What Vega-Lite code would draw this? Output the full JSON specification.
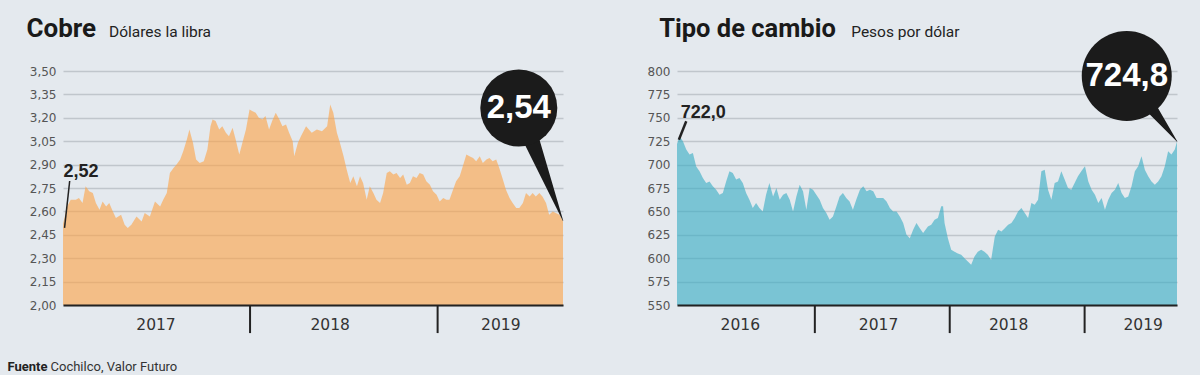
{
  "$schema": "https://vega.github.io/schema/vega-lite/v6.json",
  "background": "#e4e9ee",
  "padding": {"left": 7, "top": 15, "right": 22, "bottom": 2},
  "config": {"view": {"stroke": null}},
  "title": {
    "text": "Fuente",
    "orient": "bottom", "anchor": "start", "dx": -18.6, "offset": -13,
    "font": "Roboto", "fontSize": 13, "fontWeight": "bold", "color": "#222"
  },
  "spacing": 83,
  "datasets": {
    "cobre": [
      {"d":"2017-01-02","v":2.52},{"d":"2017-01-10","v":2.632},{"d":"2017-01-17","v":2.675},{"d":"2017-01-27","v":2.675},
      {"d":"2017-02-02","v":2.686},{"d":"2017-02-09","v":2.654},{"d":"2017-02-15","v":2.761},{"d":"2017-02-22","v":2.729},
      {"d":"2017-03-01","v":2.718},{"d":"2017-03-07","v":2.654},{"d":"2017-03-14","v":2.611},{"d":"2017-03-20","v":2.664},
      {"d":"2017-03-27","v":2.632},{"d":"2017-04-02","v":2.654},{"d":"2017-04-09","v":2.60},{"d":"2017-04-15","v":2.557},
      {"d":"2017-04-25","v":2.579},{"d":"2017-05-02","v":2.514},{"d":"2017-05-08","v":2.493},{"d":"2017-05-15","v":2.514},
      {"d":"2017-05-25","v":2.568},{"d":"2017-06-04","v":2.536},{"d":"2017-06-10","v":2.589},{"d":"2017-06-20","v":2.568},
      {"d":"2017-06-30","v":2.664},{"d":"2017-07-10","v":2.632},{"d":"2017-07-16","v":2.675},{"d":"2017-07-23","v":2.718},
      {"d":"2017-07-29","v":2.846},{"d":"2017-08-05","v":2.879},{"d":"2017-08-11","v":2.90},{"d":"2017-08-18","v":2.932},
      {"d":"2017-08-24","v":2.986},{"d":"2017-08-31","v":3.061},{"d":"2017-09-05","v":3.125},{"d":"2017-09-12","v":3.039},
      {"d":"2017-09-18","v":2.932},{"d":"2017-09-25","v":2.911},{"d":"2017-10-03","v":2.921},{"d":"2017-10-10","v":2.996},
      {"d":"2017-10-16","v":3.146},{"d":"2017-10-20","v":3.189},{"d":"2017-10-26","v":3.179},{"d":"2017-11-02","v":3.125},
      {"d":"2017-11-08","v":3.146},{"d":"2017-11-15","v":3.104},{"d":"2017-11-21","v":3.082},{"d":"2017-11-28","v":3.136},
      {"d":"2017-12-04","v":3.061},{"d":"2017-12-11","v":2.964},{"d":"2017-12-17","v":3.039},{"d":"2017-12-24","v":3.125},
      {"d":"2017-12-31","v":3.254},{"d":"2018-01-05","v":3.243},{"d":"2018-01-12","v":3.232},{"d":"2018-01-18","v":3.20},
      {"d":"2018-01-25","v":3.189},{"d":"2018-01-31","v":3.211},{"d":"2018-02-07","v":3.125},{"d":"2018-02-13","v":3.179},
      {"d":"2018-02-20","v":3.232},{"d":"2018-02-27","v":3.189},{"d":"2018-03-05","v":3.146},{"d":"2018-03-12","v":3.157},
      {"d":"2018-03-18","v":3.104},{"d":"2018-03-25","v":3.05},{"d":"2018-03-28","v":2.954},{"d":"2018-04-04","v":3.039},
      {"d":"2018-04-10","v":3.082},{"d":"2018-04-20","v":3.146},{"d":"2018-05-01","v":3.104},{"d":"2018-05-11","v":3.125},
      {"d":"2018-05-21","v":3.114},{"d":"2018-05-31","v":3.146},{"d":"2018-06-06","v":3.286},{"d":"2018-06-12","v":3.232},
      {"d":"2018-06-19","v":3.104},{"d":"2018-06-25","v":3.039},{"d":"2018-07-02","v":2.954},{"d":"2018-07-08","v":2.868},
      {"d":"2018-07-15","v":2.782},{"d":"2018-07-21","v":2.825},{"d":"2018-07-28","v":2.761},{"d":"2018-08-03","v":2.825},
      {"d":"2018-08-09","v":2.782},{"d":"2018-08-16","v":2.675},{"d":"2018-08-22","v":2.761},{"d":"2018-08-29","v":2.718},
      {"d":"2018-09-04","v":2.675},{"d":"2018-09-11","v":2.654},{"d":"2018-09-17","v":2.718},{"d":"2018-09-24","v":2.846},
      {"d":"2018-09-30","v":2.857},{"d":"2018-10-07","v":2.836},{"d":"2018-10-13","v":2.846},{"d":"2018-10-20","v":2.814},
      {"d":"2018-10-26","v":2.836},{"d":"2018-11-02","v":2.771},{"d":"2018-11-08","v":2.782},{"d":"2018-11-14","v":2.825},
      {"d":"2018-11-21","v":2.814},{"d":"2018-11-27","v":2.846},{"d":"2018-12-04","v":2.836},{"d":"2018-12-10","v":2.793},
      {"d":"2018-12-17","v":2.771},{"d":"2018-12-23","v":2.729},{"d":"2018-12-30","v":2.707},{"d":"2019-01-05","v":2.664},
      {"d":"2019-01-12","v":2.686},{"d":"2019-01-18","v":2.675},{"d":"2019-01-24","v":2.675},{"d":"2019-01-31","v":2.739},
      {"d":"2019-02-06","v":2.793},{"d":"2019-02-13","v":2.825},{"d":"2019-02-19","v":2.889},{"d":"2019-02-26","v":2.964},
      {"d":"2019-03-04","v":2.954},{"d":"2019-03-11","v":2.943},{"d":"2019-03-17","v":2.921},{"d":"2019-03-24","v":2.954},
      {"d":"2019-03-30","v":2.911},{"d":"2019-04-06","v":2.932},{"d":"2019-04-12","v":2.943},{"d":"2019-04-18","v":2.921},
      {"d":"2019-04-25","v":2.932},{"d":"2019-05-01","v":2.879},{"d":"2019-05-08","v":2.804},{"d":"2019-05-14","v":2.739},
      {"d":"2019-05-21","v":2.686},{"d":"2019-05-27","v":2.654},{"d":"2019-06-03","v":2.621},{"d":"2019-06-09","v":2.621},
      {"d":"2019-06-16","v":2.654},{"d":"2019-06-22","v":2.718},{"d":"2019-06-29","v":2.696},{"d":"2019-07-05","v":2.718},
      {"d":"2019-07-11","v":2.696},{"d":"2019-07-18","v":2.718},{"d":"2019-07-24","v":2.696},{"d":"2019-07-31","v":2.654},
      {"d":"2019-08-06","v":2.579},{"d":"2019-08-13","v":2.60},{"d":"2019-08-19","v":2.589},{"d":"2019-08-26","v":2.579},
      {"d":"2019-09-02","v":2.54}
    ],
    "cambio": [
      {"d":"2015-12-25","v":722.0},{"d":"2016-01-01","v":730.4},{"d":"2016-01-10","v":725},{"d":"2016-01-19","v":716},
      {"d":"2016-01-28","v":710.7},{"d":"2016-02-06","v":712.5},{"d":"2016-02-15","v":698},{"d":"2016-02-24","v":692.9},
      {"d":"2016-03-04","v":685.7},{"d":"2016-03-13","v":680.4},{"d":"2016-03-22","v":682},{"d":"2016-03-31","v":676.8},
      {"d":"2016-04-09","v":673},{"d":"2016-04-18","v":667.9},{"d":"2016-04-27","v":669.6},{"d":"2016-05-06","v":682},
      {"d":"2016-05-15","v":692.9},{"d":"2016-05-24","v":691},{"d":"2016-06-02","v":684},{"d":"2016-06-11","v":685.7},
      {"d":"2016-06-20","v":680.4},{"d":"2016-06-29","v":669.6},{"d":"2016-07-08","v":662.5},{"d":"2016-07-17","v":653.6},
      {"d":"2016-07-26","v":659},{"d":"2016-08-04","v":653.6},{"d":"2016-08-13","v":650},{"d":"2016-08-22","v":667.9},
      {"d":"2016-08-31","v":680.4},{"d":"2016-09-10","v":666},{"d":"2016-09-19","v":675},{"d":"2016-09-28","v":662.5},
      {"d":"2016-10-07","v":667.9},{"d":"2016-10-16","v":669.6},{"d":"2016-10-25","v":662.5},{"d":"2016-11-03","v":650},
      {"d":"2016-11-12","v":666},{"d":"2016-11-21","v":678.6},{"d":"2016-11-30","v":671.4},{"d":"2016-12-09","v":651.8},
      {"d":"2016-12-18","v":675},{"d":"2016-12-27","v":673},{"d":"2017-01-05","v":667.9},{"d":"2017-01-14","v":662.5},
      {"d":"2017-01-23","v":653.6},{"d":"2017-02-01","v":648.2},{"d":"2017-02-10","v":641},{"d":"2017-02-19","v":644.6},
      {"d":"2017-02-28","v":655},{"d":"2017-03-09","v":666},{"d":"2017-03-18","v":669.6},{"d":"2017-03-27","v":664.3},
      {"d":"2017-04-05","v":660.7},{"d":"2017-04-14","v":651.8},{"d":"2017-04-23","v":662.5},{"d":"2017-05-03","v":673},
      {"d":"2017-05-12","v":676.8},{"d":"2017-05-21","v":671.4},{"d":"2017-05-30","v":673},{"d":"2017-06-08","v":671.4},
      {"d":"2017-06-17","v":664.3},{"d":"2017-06-26","v":664.3},{"d":"2017-07-05","v":664.3},{"d":"2017-07-14","v":660.7},
      {"d":"2017-07-23","v":653.6},{"d":"2017-08-01","v":650},{"d":"2017-08-10","v":650},{"d":"2017-08-19","v":644.6},
      {"d":"2017-08-28","v":637.5},{"d":"2017-09-06","v":625},{"d":"2017-09-15","v":621.4},{"d":"2017-09-24","v":630.4},
      {"d":"2017-10-03","v":637.5},{"d":"2017-10-12","v":632},{"d":"2017-10-21","v":626.8},{"d":"2017-11-03","v":634},
      {"d":"2017-11-12","v":635.7},{"d":"2017-11-21","v":641},{"d":"2017-11-30","v":642.9},{"d":"2017-12-09","v":655.4},
      {"d":"2017-12-14","v":655.4},{"d":"2017-12-18","v":637.5},{"d":"2017-12-27","v":621.4},{"d":"2018-01-05","v":609},
      {"d":"2018-01-14","v":607},{"d":"2018-01-23","v":605},{"d":"2018-02-01","v":603.6},{"d":"2018-02-10","v":600},
      {"d":"2018-02-19","v":596.4},{"d":"2018-02-28","v":592.9},{"d":"2018-03-09","v":601.8},{"d":"2018-03-18","v":607},
      {"d":"2018-03-27","v":609},{"d":"2018-04-05","v":607},{"d":"2018-04-14","v":603.6},{"d":"2018-04-23","v":598.2},
      {"d":"2018-05-03","v":623.2},{"d":"2018-05-12","v":630.4},{"d":"2018-05-21","v":628.6},{"d":"2018-05-30","v":632},
      {"d":"2018-06-08","v":635.7},{"d":"2018-06-17","v":637.5},{"d":"2018-06-26","v":642.9},{"d":"2018-07-05","v":650},
      {"d":"2018-07-14","v":653.6},{"d":"2018-07-23","v":648.2},{"d":"2018-08-01","v":642.9},{"d":"2018-08-10","v":659},
      {"d":"2018-08-19","v":657},{"d":"2018-08-28","v":662.5},{"d":"2018-09-06","v":692.9},{"d":"2018-09-15","v":694.6},
      {"d":"2018-09-24","v":673},{"d":"2018-10-03","v":662.5},{"d":"2018-10-12","v":680.4},{"d":"2018-10-21","v":682},
      {"d":"2018-10-30","v":692.9},{"d":"2018-11-08","v":684},{"d":"2018-11-17","v":675},{"d":"2018-11-26","v":673},
      {"d":"2018-12-05","v":680.4},{"d":"2018-12-14","v":687.5},{"d":"2018-12-23","v":692.9},{"d":"2019-01-02","v":698.2},
      {"d":"2019-01-11","v":682},{"d":"2019-01-20","v":673},{"d":"2019-01-29","v":667.9},{"d":"2019-02-07","v":659},
      {"d":"2019-02-16","v":664.3},{"d":"2019-02-25","v":651.8},{"d":"2019-03-06","v":662.5},{"d":"2019-03-15","v":669.6},
      {"d":"2019-03-24","v":673},{"d":"2019-04-02","v":680.4},{"d":"2019-04-11","v":669.6},{"d":"2019-04-20","v":664.3},
      {"d":"2019-04-29","v":666},{"d":"2019-05-08","v":676.8},{"d":"2019-05-17","v":692.9},{"d":"2019-05-26","v":698.2},
      {"d":"2019-06-04","v":708.9},{"d":"2019-06-13","v":694.6},{"d":"2019-06-22","v":687.5},{"d":"2019-07-01","v":682},
      {"d":"2019-07-10","v":678.6},{"d":"2019-07-19","v":682},{"d":"2019-07-28","v":687.5},{"d":"2019-08-06","v":698.2},
      {"d":"2019-08-15","v":714.3},{"d":"2019-08-24","v":710.7},{"d":"2019-09-02","v":716},{"d":"2019-09-08","v":724.8}
    ]
  },
  "hconcat": [
    {
      "width": 500, "height": 234,
      "title": {
        "text": "Cochilco, Valor Futuro",
        "orient": "bottom", "anchor": "start", "dx": 24.5, "offset": 27,
        "font": "Roboto", "fontSize": 13, "fontWeight": "normal", "color": "#333"
      },
      "layer": [
        {
          "data": {"name": "cobre"},
          "mark": {"type": "area", "color": "#fda142", "opacity": 0.6},
          "encoding": {
            "x": {"field": "d", "type": "temporal", "axis": {
              "values": [{"year": 2017, "month": 7, "date": 1}, {"year": 2018, "month": 6, "date": 5}, {"year": 2019, "month": 5, "date": 3}],
              "format": "%Y", "ticks": false, "grid": false, "domain": true, "domainColor": "#222", "domainWidth": 2,
              "labelFont": "DejaVu Sans", "labelFontSize": 15.5, "labelColor": "#333", "labelPadding": 12, "labelFlush": false, "labelOverlap": false, "zindex": 1,
              "title": "Dólares la libra", "titleX": 45.5, "titleY": -269, "titleAlign": "left", "titleBaseline": "alphabetic",
              "titleFont": "Roboto", "titleFontSize": 15.5, "titleFontWeight": "normal", "titleColor": "#222"
            }},
            "y": {"field": "v", "type": "quantitative", "scale": {"domain": [2, 3.5], "nice": false, "zero": false}, "axis": {
              "values": [2, 2.15, 2.3, 2.45, 2.6, 2.75, 2.9, 3.05, 3.2, 3.35, 3.5], "tickCount": 20,
              "labelExpr": "replace(format(datum.value, '.2f'), '.', ',')",
              "grid": true, "gridColor": "#c0c6cc", "gridWidth": 1.5, "domain": false, "ticks": false, "labelPadding": 7,
              "labelFont": "DejaVu Sans", "labelFontSize": 12, "labelColor": "#555", "labelOverlap": false,
              "title": "Cobre", "titleAngle": 0, "titleX": -37, "titleY": -35, "titleAlign": "left", "titleBaseline": "alphabetic",
              "titleFont": "Roboto", "titleFontSize": 26, "titleFontWeight": "bold", "titleColor": "#1a1a1a"
            }},
            "y2": {"datum": 2}
          }
        },
        {
          "data": {"values": [{"d": "2018-01-01"}, {"d": "2019-01-01"}]},
          "mark": {"type": "rule", "color": "#222", "strokeWidth": 2},
          "encoding": {"x": {"field": "d", "type": "temporal"}, "y": {"datum": 2}, "y2": {"datum": 1.82}}
        },
        {
          "data": {"values": [{"d": "2017-01-05", "v": 2.494}, {"d": "2017-01-15", "v": 2.795}]},
          "mark": {"type": "line", "color": "#222", "strokeWidth": 1.5},
          "encoding": {"x": {"field": "d", "type": "temporal"}, "y": {"field": "v", "type": "quantitative"}}
        },
        {
          "data": {"values": [{"d": "2017-01-03", "v": 2.82, "t": "2,52"}]},
          "mark": {"type": "text", "align": "left", "baseline": "alphabetic", "font": "Liberation Sans", "fontWeight": "bold", "fontSize": 18, "color": "#222"},
          "encoding": {"x": {"field": "d", "type": "temporal"}, "y": {"field": "v", "type": "quantitative"}, "text": {"field": "t"}}
        },
        {
          "data": {"values": [{"d": "2019-06-08", "v": 3.263, "role": "base", "t": "2,54"}, {"d": "2019-09-02", "v": 2.54, "role": "tip"}]},
          "layer": [
            {
              "mark": {"type": "trail", "color": "#1b1b1b"},
              "encoding": {"x": {"field": "d", "type": "temporal"}, "y": {"field": "v", "type": "quantitative"},
                "size": {"field": "role", "type": "ordinal", "scale": {"type": "ordinal", "domain": ["base", "tip"], "range": [22, 0.5]}, "legend": null}}
            },
            {
              "transform": [{"filter": "datum.role == 'base'"}],
              "mark": {"type": "point", "filled": true, "shape": "circle", "size": 5929, "color": "#1b1b1b", "opacity": 1},
              "encoding": {"x": {"field": "d", "type": "temporal"}, "y": {"field": "v", "type": "quantitative"}}
            },
            {
              "transform": [{"filter": "datum.role == 'base'"}],
              "mark": {"type": "text", "align": "center", "baseline": "middle", "font": "Liberation Sans", "fontWeight": "bold", "fontSize": 33, "color": "#ffffff"},
              "encoding": {"x": {"field": "d", "type": "temporal"}, "y": {"field": "v", "type": "quantitative"}, "text": {"field": "t"}}
            }
          ]
        }
      ]
    },
    {
      "width": 500, "height": 234,
      "layer": [
        {
          "data": {"name": "cambio"},
          "mark": {"type": "area", "color": "#33abc3", "opacity": 0.6},
          "encoding": {
            "x": {"field": "d", "type": "temporal", "axis": {
              "values": [{"year": 2016, "month": 6, "date": 12}, {"year": 2017, "month": 6, "date": 21}, {"year": 2018, "month": 6, "date": 8}, {"year": 2019, "month": 6, "date": 7}],
              "format": "%Y", "ticks": false, "grid": false, "domain": true, "domainColor": "#222", "domainWidth": 2,
              "labelFont": "DejaVu Sans", "labelFontSize": 15.5, "labelColor": "#333", "labelPadding": 12, "labelFlush": false, "labelOverlap": false, "zindex": 1,
              "title": "Pesos por dólar", "titleX": 173.7, "titleY": -269, "titleAlign": "left", "titleBaseline": "alphabetic",
              "titleFont": "Roboto", "titleFontSize": 15.5, "titleFontWeight": "normal", "titleColor": "#222"
            }},
            "y": {"field": "v", "type": "quantitative", "scale": {"domain": [550, 800], "nice": false, "zero": false}, "axis": {
              "values": [550, 575, 600, 625, 650, 675, 700, 725, 750, 775, 800], "tickCount": 20,
              "format": "d",
              "grid": true, "gridColor": "#c0c6cc", "gridWidth": 1.5, "domain": false, "ticks": false, "labelPadding": 7,
              "labelFont": "DejaVu Sans", "labelFontSize": 12, "labelColor": "#555", "labelOverlap": false,
              "title": "Tipo de cambio", "titleAngle": 0, "titleX": -18.3, "titleY": -35, "titleAlign": "left", "titleBaseline": "alphabetic",
              "titleFont": "Roboto", "titleFontSize": 25.5, "titleFontWeight": "bold", "titleColor": "#1a1a1a"
            }},
            "y2": {"datum": 550}
          }
        },
        {
          "data": {"values": [{"d": "2017-01-01"}, {"d": "2018-01-01"}, {"d": "2019-01-01"}]},
          "mark": {"type": "rule", "color": "#222", "strokeWidth": 2},
          "encoding": {"x": {"field": "d", "type": "temporal"}, "y": {"datum": 550}, "y2": {"datum": 520}}
        },
        {
          "data": {"values": [{"d": "2015-12-30", "v": 726.6}, {"d": "2016-01-19", "v": 746.3}]},
          "mark": {"type": "line", "color": "#222", "strokeWidth": 2.5},
          "encoding": {"x": {"field": "d", "type": "temporal"}, "y": {"field": "v", "type": "quantitative"}}
        },
        {
          "data": {"values": [{"d": "2016-01-04", "v": 749.8, "t": "722,0"}]},
          "mark": {"type": "text", "align": "left", "baseline": "alphabetic", "font": "Liberation Sans", "fontWeight": "bold", "fontSize": 18, "color": "#222"},
          "encoding": {"x": {"field": "d", "type": "temporal"}, "y": {"field": "v", "type": "quantitative"}, "text": {"field": "t"}}
        },
        {
          "data": {"values": [{"d": "2019-04-25", "v": 794.7, "role": "base", "t": "724,8"}, {"d": "2019-09-08", "v": 724.8, "role": "tip"}]},
          "layer": [
            {
              "mark": {"type": "trail", "color": "#1b1b1b"},
              "encoding": {"x": {"field": "d", "type": "temporal"}, "y": {"field": "v", "type": "quantitative"},
                "size": {"field": "role", "type": "ordinal", "scale": {"type": "ordinal", "domain": ["base", "tip"], "range": [24, 0.5]}, "legend": null}}
            },
            {
              "transform": [{"filter": "datum.role == 'base'"}],
              "mark": {"type": "point", "filled": true, "shape": "circle", "size": 8100, "color": "#1b1b1b", "opacity": 1},
              "encoding": {"x": {"field": "d", "type": "temporal"}, "y": {"field": "v", "type": "quantitative"}}
            },
            {
              "transform": [{"filter": "datum.role == 'base'"}],
              "mark": {"type": "text", "align": "center", "baseline": "middle", "font": "Liberation Sans", "fontWeight": "bold", "fontSize": 33, "color": "#ffffff"},
              "encoding": {"x": {"field": "d", "type": "temporal"}, "y": {"field": "v", "type": "quantitative"}, "text": {"field": "t"}}
            }
          ]
        }
      ]
    }
  ]
}
